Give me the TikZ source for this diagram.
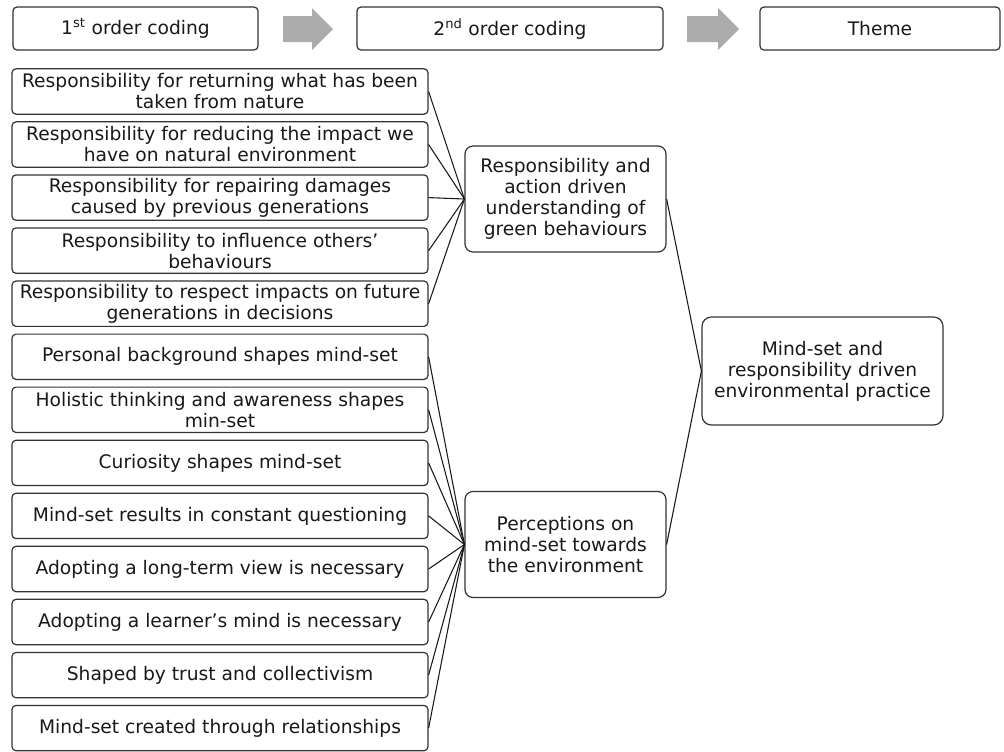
\documentclass[tikz,border=0pt]{standalone}
\usepackage{fontspec}
\setmainfont{DejaVu Sans}
\begin{document}
\begin{tikzpicture}[x=0.75pt,y=-0.75pt,
  every node/.style={font=\fontsize{14pt}{15.75pt}\selectfont, text=black!90},
  boxbase/.style={draw=black!80, line width=0.9pt, fill=white, align=center, inner sep=0pt},
  headbox/.style={boxbase, rounded corners=3pt, minimum height=32.25pt},
  leaf/.style={boxbase, rounded corners=3pt, minimum width=312pt, minimum height=34pt},
  midbox/.style={boxbase, rounded corners=6pt, minimum width=150.75pt, minimum height=79.5pt},
  themebox/.style={boxbase, rounded corners=7pt, minimum width=180.75pt, minimum height=81pt},
  link/.style={draw=black!90, line width=0.8pt},
  flowarrow/.style={fill=black!33, draw=none}
]
\useasboundingbox (0,0) rectangle (1004,751);

% column headers
\node[headbox, minimum width=183.75pt] (h1) at (135.5,28.5) {1\textsuperscript{st} order coding};
\node[headbox, minimum width=229.5pt] (h2) at (510,28.5) {2\textsuperscript{nd} order coding};
\node[headbox, minimum width=180pt] (h3) at (880,28.5) {Theme};

% block arrows between the headers
\fill[flowarrow] (283,16) -- (312,16) -- (312,8) -- (333,29) -- (312,50) -- (312,42) -- (283,42) -- cycle;
\fill[flowarrow] (687,16) -- (718,16) -- (718,8) -- (739,29) -- (718,50) -- (718,42) -- (687,42) -- cycle;

% first order codes
\node[leaf] (c1) at (220,91.5) {Responsibility for returning what has been\\taken from nature};
\node[leaf] (c2) at (220,144.5) {Responsibility for reducing the impact we\\have on natural environment};
\node[leaf] (c3) at (220,197.6) {Responsibility for repairing damages\\caused by previous generations};
\node[leaf] (c4) at (220,250.6) {Responsibility to influence others’\\behaviours};
\node[leaf] (c5) at (220,303.7) {Responsibility to respect impacts on future\\generations in decisions};
\node[leaf] (c6) at (220,356.8) {Personal background shapes mind-set};
\node[leaf] (c7) at (220,409.8) {Holistic thinking and awareness shapes\\min-set};
\node[leaf] (c8) at (220,462.9) {Curiosity shapes mind-set};
\node[leaf] (c9) at (220,515.9) {Mind-set results in constant questioning};
\node[leaf] (c10) at (220,569) {Adopting a long-term view is necessary};
\node[leaf] (c11) at (220,622) {Adopting a learner’s mind is necessary};
\node[leaf] (c12) at (220,675.1) {Shaped by trust and collectivism};
\node[leaf] (c13) at (220,728.1) {Mind-set created through relationships};

% second order codes
\node[midbox] (m1) at (565.5,199) {Responsibility and\\action driven\\understanding of\\green behaviours};
\node[midbox] (m2) at (565.5,544.5) {Perceptions on\\mind-set towards\\the environment};

% theme
\node[themebox] (t) at (822.5,371) {Mind-set and\\responsibility driven\\environmental practice};

% connectors
\foreach \i in {1,...,5} \draw[link] (c\i.east) -- (m1.west);
\foreach \i in {6,...,13} \draw[link] (c\i.east) -- (m2.west);
\draw[link] (m1.east) -- (t.west);
\draw[link] (m2.east) -- (t.west);
\end{tikzpicture}
\end{document}
